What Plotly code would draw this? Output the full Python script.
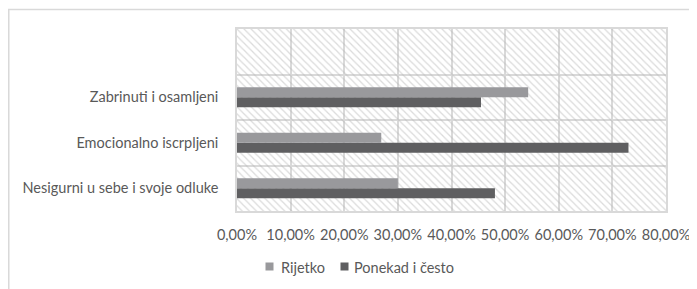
import plotly.graph_objects as go

categories = ["Nesigurni u sebe i svoje odluke", "Emocionalno iscrpljeni", "Zabrinuti i osamljeni"]
series_names = ["Rijetko", "Ponekad i često"]
rijetko = [0.30, 0.269, 0.543]
ponekad = [0.481, 0.730, 0.455]
x_max = 0.8
x_tick_step = 0.1

font_family = "Lato, 'Open Sans', sans-serif"
text_color = "#595959"
grid_color = "#d9d9d9"
c_rijetko = "#99999c"
c_ponekad = "#5f5f61"

fig = go.Figure()

# Hatched plot-area background (spans the whole axis range)
fig.add_trace(go.Bar(
    x=[x_max], y=[0.5], width=[1], orientation="h",
    xaxis="x", yaxis="y",
    marker=dict(color="rgba(0,0,0,0)", line=dict(width=0),
                pattern=dict(shape="\\", fgcolor="#b8b8b8", size=5, solidity=0.25)),
    showlegend=False, hoverinfo="skip",
))

fig.add_trace(go.Bar(
    name=series_names[1], x=ponekad, y=categories, orientation="h",
    xaxis="x", yaxis="y2", marker=dict(color=c_ponekad, line=dict(width=0)),
    showlegend=False,
))
fig.add_trace(go.Bar(
    name=series_names[0], x=rijetko, y=categories, orientation="h",
    xaxis="x", yaxis="y2", marker=dict(color=c_rijetko, line=dict(width=0)),
    showlegend=False,
))

# Legend (Excel-like: small squares right next to the labels)
legend_text_y = -0.313
legend_sq_y = -0.305
legend_items = [
    (series_names[0], c_rijetko, 0.0758, 0.0979),
    (series_names[1], c_ponekad, 0.2506, 0.2681),
]
annotations = []
for name, col, sq_x, tx_x in legend_items:
    annotations.append(dict(xref="paper", yref="paper", x=sq_x, y=legend_sq_y,
                            xanchor="center", yanchor="middle", showarrow=False,
                            text=" ", width=7, height=7, bgcolor=col, borderpad=0,
                            font=dict(size=1)))
    annotations.append(dict(xref="paper", yref="paper", x=tx_x, y=legend_text_y,
                            xanchor="left", yanchor="middle", showarrow=False,
                            text=name))

fig.update_layout(
    width=689, height=281,
    margin=dict(l=229, r=31, t=21, b=78),
    paper_bgcolor="white", plot_bgcolor="white",
    separators=", ",
    barmode="group", bargap=0.56, bargroupgap=0,
    font=dict(family=font_family, size=14.5, color=text_color),
    showlegend=False,
    xaxis=dict(range=[0, x_max], dtick=x_tick_step, tick0=0, tickformat=".2%",
               showgrid=True, gridcolor=grid_color, gridwidth=1.5,
               showline=True, linecolor=grid_color, linewidth=1.5, mirror=True,
               zeroline=False, ticks="", ticklabelstandoff=10, automargin=False),
    yaxis=dict(range=[0, 1], visible=False, fixedrange=True, automargin=False),
    yaxis2=dict(overlaying="y", side="left", type="category",
                range=[-0.5, 3.5], tickson="boundaries",
                showgrid=True, gridcolor=grid_color, gridwidth=1.5,
                showline=True, linecolor=grid_color, linewidth=1.5, mirror=True,
                zeroline=False, ticks="", ticklabelstandoff=14, automargin=False),
    annotations=annotations,
    shapes=[dict(type="rect", xref="paper", yref="paper",
                 x0=-0.532, x1=1.2, y0=-0.6, y1=1.107,
                 line=dict(color=grid_color, width=1.5), fillcolor="rgba(0,0,0,0)",
                 layer="below")],
)

fig.write_html("out.html")
